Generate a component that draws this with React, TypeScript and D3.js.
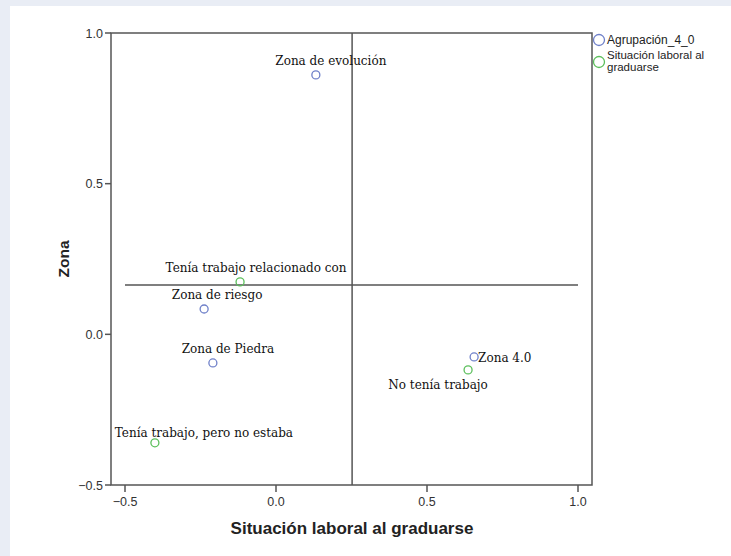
import React from "react";
import * as d3 from "d3";

const zonaNames = ["Zona de evolución", "Zona de riesgo", "Zona de Piedra", "Zona 4.0"];
const zonaX = [0.132, -0.238, -0.209, 0.656];
const zonaY = [0.861, 0.084, -0.095, -0.075];

const sitNames = ["Tenía trabajo relacionado con", "No tenía trabajo", "Tenía trabajo, pero no estaba"];
const sitX = [-0.119, 0.636, -0.401];
const sitY = [0.174, -0.118, -0.36];

const xTicks = [-0.5, 0.0, 0.5, 1.0];
const yTicks = [-0.5, 0.0, 0.5, 1.0];
const refX = 0.252;
const refY = 0.164;
const legendNames = ["Agrupación_4_0", "Situación laboral al graduarse"];

const BLUE = "#6f80c9";
const GREEN = "#5cbf5c";
const AXIS = "#555";

// label placement (dx, dy, anchor) relative to point
const zonaLabelPos = [
  { dx: 15, dy: -10, anchor: "middle" },
  { dx: 13, dy: -10, anchor: "middle" },
  { dx: 15, dy: -10, anchor: "middle" },
  { dx: 4, dy: 5, anchor: "start" },
];
const sitLabelPos = [
  { dx: 16, dy: -10, anchor: "middle" },
  { dx: -30, dy: 19, anchor: "middle" },
  { dx: 49, dy: -6, anchor: "middle" },
];

export default function App() {
  const W = 731, H = 556;
  const x = d3.scaleLinear().domain([-0.5, 1.0]).range([125, 578]);
  const y = d3.scaleLinear().domain([-0.5, 1.0]).range([485, 33]);
  const left = 111, right = 592, top = 33, bottom = 485;
  const fmt = d3.format(".1f");
  const serif = "'DejaVu Serif', 'Liberation Serif', serif";
  const sans = "'Liberation Sans', Arial, sans-serif";

  return (
    <svg width={W} height={H} style={{ position: "fixed", left: 0, top: 0 }}>
      <rect x={0} y={0} width={W} height={H} fill="#e9edf5" />
      <rect x={10} y={6} width={W - 10} height={H - 6} fill="#fff" />
      {/* frame */}
      <rect x={left} y={top} width={right - left} height={bottom - top} fill="none" stroke={AXIS} strokeWidth={1.5} />
      {/* reference lines */}
      <line x1={x(refX)} x2={x(refX)} y1={top} y2={bottom} stroke={AXIS} strokeWidth={1.5} />
      <line x1={x(-0.5)} x2={x(1.0)} y1={y(refY)} y2={y(refY)} stroke={AXIS} strokeWidth={1.5} />
      {/* y ticks */}
      {yTicks.map((t) => (
        <g key={"y" + t}>
          <line x1={left - 6} x2={left} y1={y(t)} y2={y(t)} stroke={AXIS} strokeWidth={1.5} />
          <text x={left - 8} y={y(t) + 4.5} textAnchor="end" fontFamily={sans} fontSize={12.5} fill="#333">{fmt(t)}</text>
        </g>
      ))}
      {/* x ticks */}
      {xTicks.map((t) => (
        <g key={"x" + t}>
          <line x1={x(t)} x2={x(t)} y1={bottom} y2={bottom + 7} stroke={AXIS} strokeWidth={1.5} />
          <text x={x(t)} y={bottom + 21} textAnchor="middle" fontFamily={sans} fontSize={12.5} fill="#333">{fmt(t)}</text>
        </g>
      ))}
      <text x={352} y={534} textAnchor="middle" fontFamily={sans} fontSize={17} fontWeight="bold" fill="#222">Situación laboral al graduarse</text>
      <text transform={`translate(69,259) rotate(-90)`} textAnchor="middle" fontFamily={sans} fontSize={15.5} fontWeight="bold" fill="#222">Zona</text>
      {/* points */}
      {zonaNames.map((n, i) => (
        <g key={n}>
          <circle cx={x(zonaX[i])} cy={y(zonaY[i])} r={4} fill="none" stroke={BLUE} strokeWidth={1.3} />
          <text x={x(zonaX[i]) + zonaLabelPos[i].dx} y={y(zonaY[i]) + zonaLabelPos[i].dy} textAnchor={zonaLabelPos[i].anchor as any} fontFamily={serif} fontSize={12} fill="#111">{n}</text>
        </g>
      ))}
      {sitNames.map((n, i) => (
        <g key={n}>
          <circle cx={x(sitX[i])} cy={y(sitY[i])} r={4} fill="none" stroke={GREEN} strokeWidth={1.3} />
          <text x={x(sitX[i]) + sitLabelPos[i].dx} y={y(sitY[i]) + sitLabelPos[i].dy} textAnchor={sitLabelPos[i].anchor as any} fontFamily={serif} fontSize={12} fill="#111">{n}</text>
        </g>
      ))}
      {/* legend */}
      <circle cx={599} cy={40} r={5.5} fill="none" stroke={BLUE} strokeWidth={1.3} />
      <text x={607} y={44} fontFamily={sans} fontSize={12} fill="#222">{legendNames[0]}</text>
      <circle cx={599} cy={62} r={5.5} fill="none" stroke={GREEN} strokeWidth={1.3} />
      <text x={607} y={59} fontFamily={sans} fontSize={11.5} fill="#222">Situación laboral al</text>
      <text x={607} y={71} fontFamily={sans} fontSize={11.5} fill="#222">graduarse</text>
    </svg>
  );
}
